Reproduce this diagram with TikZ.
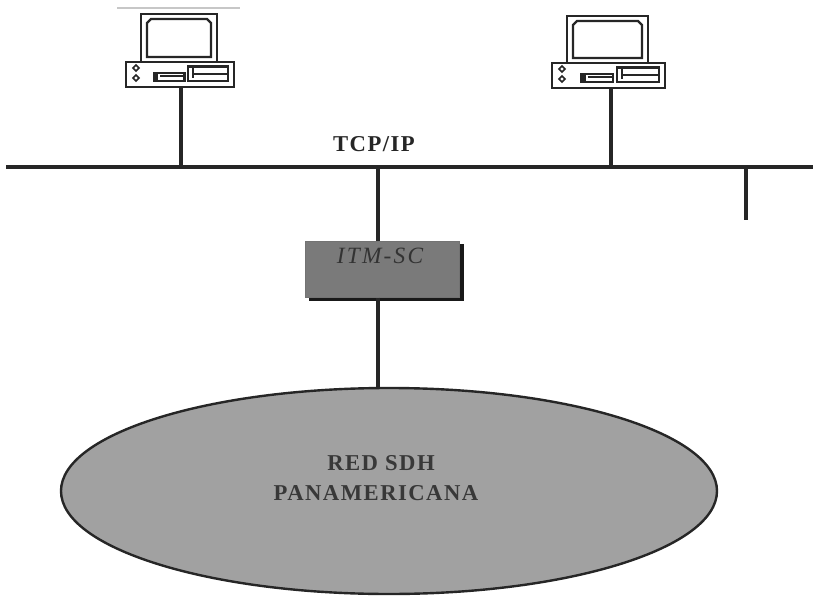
\documentclass[tikz,border=0pt]{standalone}
\usepackage{fontspec}
\setmainfont{Liberation Serif}
\newfontfamily\spacedfont[LetterSpace=6.5]{Liberation Serif}
\newfontfamily\spaceditfont[LetterSpace=9.5]{Liberation Serif}
\tikzset{
  pxunits/.style={x=0.75pt,y=-0.75pt},
  busline/.style={line width=2.6pt,color=black!85},
  drop/.style={line width=2.3pt,color=black!85},
  thickdrop/.style={line width=3.6pt,color=black!85},
  pcline/.style={line width=1.7pt,color=black!85},
  basebox/.style={draw=black!85,line width=1.7pt,fill=white,inner sep=0pt,rectangle},
  boldlabel/.style={font=\spacedfont\bfseries\fontsize{17}{20}\selectfont,inner sep=0pt},
}
\newcommand{\pcdraw}[6]{% name, x left, y top of base, base width, monitor inset, monitor top
  \node[basebox,minimum width=#4*0.75pt,minimum height=24.5*0.75pt,anchor=north west] (#1) at (#2,#3) {};
  \draw[pcline] (#2+#5,#3) -- (#2+#5,#6) -- (#2+#4-#5,#6) -- (#2+#4-#5,#3);
  \draw[pcline] (#2+#5+6,#3-4) -- (#2+#5+6,#6+9) -- (#2+#5+10,#6+5) -- (#2+#4-#5-10,#6+5) -- (#2+#4-#5-6,#6+9) -- (#2+#4-#5-6,#3-4) -- cycle;
  \foreach \dy in {7,17} {
    \draw[line width=1.2pt,color=black!85] (#2+11,#3+\dy-3) -- (#2+14,#3+\dy) -- (#2+11,#3+\dy+3) -- (#2+8,#3+\dy) -- cycle;
  }
  \draw[pcline,fill=white] (#2+0.27*#4,#3+12) rectangle (#2+0.55*#4,#3+20);
  \fill[black!85] (#2+0.27*#4,#3+12) rectangle (#2+0.27*#4+4,#3+20);
  \draw[line width=1.4pt,color=black!85] (#2+0.27*#4+6,#3+15) -- (#2+0.55*#4,#3+15);
  \draw[pcline,fill=white] (#2+0.585*#4,#3+5.5) rectangle (#2+#4-5,#3+20);
  \draw[line width=1.4pt,color=black!85] (#2+0.585*#4+5,#3+7) -- (#2+0.585*#4+5,#3+17);
  \draw[line width=1.6pt,color=black!85] (#2+0.585*#4+5,#3+13) -- (#2+#4-5,#3+13);
}
\begin{document}
\begin{tikzpicture}[pxunits]
\useasboundingbox (0,0) rectangle (815,596);
\fill[white] (0,0) rectangle (815,596);
% faint scan band above the first PC
\fill[black!22] (117,7) rectangle (240,9);
% PCs
\pcdraw{pca}{125}{61}{108}{16}{14}
\pcdraw{pcb}{551}{62}{113}{16}{16}
% bus
\coordinate (busL) at (6,167);
\coordinate (busR) at (813,167);
\draw[busline] (busL) -- (busR);
\coordinate (busA) at (181,167);
\coordinate (busB) at (611,167);
\coordinate (busC) at (378,167);
\coordinate (busD) at (746,167);
\coordinate (stubEnd) at (746,220);
\draw[drop] (pca.south -| busA) -- (busA);
\draw[drop] (pcb.south -| busB) -- (busB);
\draw[drop] (busD) -- (stubEnd);
\node[boldlabel,color=black!85] (tcp) at (374,144) {TCP/IP};
% ITM-SC
\fill[black!90] (309,244) rectangle (464,301);
\node[rectangle,fill=black!52,draw=black!55,line width=0.4pt,minimum width=154*0.75pt,minimum height=56*0.75pt,anchor=north west,inner sep=0pt] (itm) at (305,241) {};
\node[font=\spaceditfont\itshape\fontsize{17.5}{20}\selectfont,color=black!80,inner sep=0pt] (itmlabel) at (380,256) {ITM-SC};
\draw[drop] (busC) -- (busC |- itm.north);
% Ellipse
\draw[line width=1.8pt,color=black!85,fill=black!37] (389,491) ellipse [x radius=328,y radius=103];
\coordinate (ellTop) at (378,388);
\draw[thickdrop] (itm.south -| busC) -- (ellTop);
\node[boldlabel,color=black!78] (r1) at (381,463) {RED SDH};
\node[boldlabel,color=black!78] (r2) at (376,493) {PANAMERICANA};
\end{tikzpicture}
\end{document}
